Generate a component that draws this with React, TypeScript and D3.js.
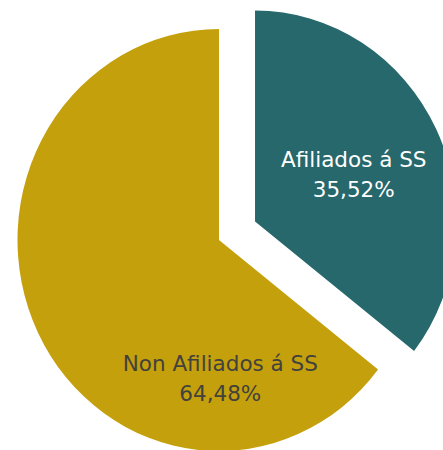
import React from "react";
import * as d3 from "d3";

const categories = ["Afiliados á SS", "Non Afiliados á SS"];
const values = [35.52, 64.48];
const labels = ["35,52%", "64,48%"];
const colors = ["#27686C", "#C5A00D"];
const textColors = ["#FFFFFF", "#42423C"];

export default function App() {
  const W = 443, H = 450;
  const cx = 219, cy = 240;
  const r = 211;
  const sx = 0.955;
  const explode = 42;

  const pie = d3.pie<number>().sort(null).startAngle(0).endAngle(2 * Math.PI);
  const arcs = pie(values);
  const arcGen = d3.arc<d3.PieArcDatum<number>>().innerRadius(0).outerRadius(r);

  return (
    <svg width={W} height={H} style={{ position: "absolute", left: 0, top: 0 }}>
      <g transform={`translate(${cx},${cy}) scale(${sx},1)`}>
        {arcs.map((a, i) => {
          const mid = (a.startAngle + a.endAngle) / 2;
          const off = i === 0 ? explode : 0;
          const dx = Math.sin(mid) * off;
          const dy = -Math.cos(mid) * off;
          return (
            <path key={i} d={arcGen(a) || ""} fill={colors[i]} transform={`translate(${dx},${dy})`} />
          );
        })}
      </g>
      {arcs.map((a, i) => {
        const mid = (a.startAngle + a.endAngle) / 2;
        let ang: number, rr: number, off: number;
        if (i === 0) {
          ang = mid + 0.015; rr = r * 0.54; off = explode;
        } else {
          ang = Math.PI - 0.01; rr = r * 0.655; off = 0;
        }
        const x = cx + Math.sin(ang) * (rr + off) * sx;
        const y = cy - Math.cos(ang) * (rr + off);
        return (
          <text key={i} textAnchor="middle" fill={textColors[i]}
            style={{ fontFamily: "'DejaVu Sans', sans-serif", fontSize: 21.5 }}>
            <tspan x={x} y={y - 7}>{categories[i]}</tspan>
            <tspan x={x} y={y + 23}>{labels[i]}</tspan>
          </text>
        );
      })}
    </svg>
  );
}
